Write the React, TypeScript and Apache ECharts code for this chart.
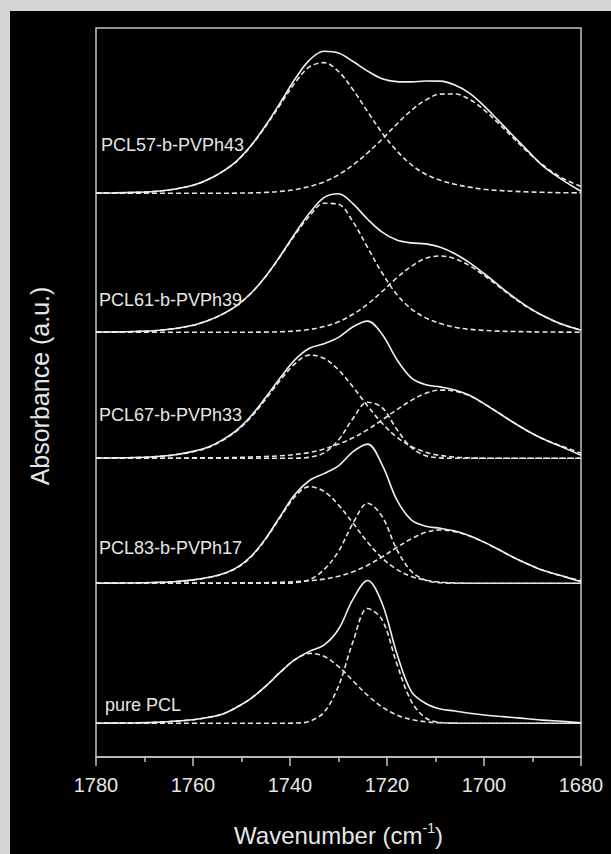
import React, { useEffect, useRef } from "react";
import * as echarts from "echarts";

// Wavenumber grid (cm-1), read positions along the x axis
const WAVENUMBERS = [1780, 1776, 1772, 1768, 1764, 1760, 1757, 1754, 1751, 1748, 1745, 1742, 1739, 1736, 1733, 1730, 1727, 1724, 1721, 1718, 1715, 1712, 1709, 1706, 1703, 1700, 1697, 1694, 1691, 1688, 1684, 1680];

const SAMPLE_NAMES = ["PCL57-b-PVPh43", "PCL61-b-PVPh39", "PCL67-b-PVPh33", "PCL83-b-PVPh17", "pure PCL"];
// vertical offset of each stacked spectrum (a.u. x100)
const BASELINES = [563.7, 424.7, 298.7, 173.7, 33.7];

// PCL57-b-PVPh43
const PCL57_TOTAL = [0.2, 0.4, 0.9, 1.8, 4.0, 8.0, 13.5, 21.5, 32.2, 48.0, 68.0, 90.6, 114.0, 133.2, 142.1, 140.3, 131.8, 122.2, 114.5, 111.7, 111.4, 112.3, 112.2, 108.3, 100.2, 87.5, 72.7, 57.6, 42.7, 28.0, 14.0, 2.0];
const PCL57_FREE = [0.2, 0.4, 0.9, 1.8, 4.0, 8.0, 13.5, 21.5, 32.0, 47.6, 67.1, 88.7, 110.3, 126.4, 130.7, 121.8, 103.5, 81.7, 60.3, 42.6, 28.6, 19.0, 13.0, 9.0, 6.2, 4.0, 2.8, 2.0, 1.4, 1.0, 0.6, 0.4];
const PCL57_HBOND = [0, 0, 0, 0, 0, 0, 0, 0, 0.2, 0.4, 0.9, 1.9, 3.7, 6.8, 11.4, 18.5, 28.3, 40.5, 54.2, 69.1, 82.8, 93.3, 99.2, 99.3, 94.0, 83.5, 69.9, 55.6, 41.3, 28.8, 15.5, 7.0];

// PCL61-b-PVPh39
const PCL61_TOTAL = [0.2, 0.4, 0.8, 1.6, 3.5, 7.0, 11.5, 17.9, 26.6, 39.3, 56.1, 76.5, 98.6, 119.0, 134.7, 138.5, 128.5, 113.0, 100.1, 92.2, 89.4, 88.4, 85.1, 78.6, 69.7, 58.8, 47.1, 35.7, 25.5, 17.1, 8.2, 2.0];
const PCL61_FREE = [0.2, 0.4, 0.8, 1.6, 3.5, 7.0, 11.5, 17.9, 26.6, 39.2, 55.9, 76.0, 97.3, 116.2, 129.0, 128.0, 110.4, 84.8, 59.3, 37.9, 23.5, 14.4, 8.8, 5.0, 3.0, 1.9, 1.2, 0.8, 0.5, 0.3, 0.2, 0.1];
const PCL61_HBOND = [0, 0, 0, 0, 0, 0, 0, 0, 0, 0.1, 0.2, 0.5, 1.3, 2.8, 5.7, 10.5, 18.1, 28.2, 40.8, 54.3, 65.9, 74.0, 76.3, 73.6, 66.7, 56.9, 45.9, 34.9, 25.0, 16.8, 8.0, 2.5];

// PCL67-b-PVPh33
const PCL67_TOTAL = [0.2, 0.4, 0.8, 1.6, 3.3, 6.9, 11.0, 18.2, 28.1, 42.6, 61.0, 80.5, 98.4, 110.0, 114.6, 120.9, 131.6, 137.2, 124.0, 99.0, 80.5, 73.6, 71.4, 68.3, 63.0, 54.7, 45.4, 36.0, 27.3, 19.8, 11.5, 3.0];
const PCL67_FREE = [0.2, 0.4, 0.8, 1.6, 3.3, 6.5, 10.5, 17.6, 27.3, 41.3, 59.2, 78.0, 94.5, 103.2, 100.0, 88.4, 71.2, 52.4, 35.0, 21.3, 11.8, 6.0, 2.8, 1.2, 0.4, 0.1, 0, 0, 0, 0, 0, 0];
const PCL67_CRYST = [0, 0, 0, 0, 0, 0, 0, 0, 0, 0, 0, 0, 0.1, 1.0, 5.4, 18.3, 39.9, 56.1, 50.6, 29.2, 10.8, 2.6, 0.4, 0, 0, 0, 0, 0, 0, 0, 0, 0];
const PCL67_HBOND = [0, 0, 0, 0, 0, 0.4, 0.5, 0.6, 0.8, 1.3, 1.8, 2.5, 3.8, 5.8, 9.2, 14.2, 20.5, 28.7, 38.4, 48.5, 57.9, 65.0, 68.2, 67.1, 62.6, 54.6, 45.4, 36.0, 27.3, 19.8, 12.3, 5.0];

// PCL83-b-PVPh17
const PCL83_TOTAL = [0.1, 0.2, 0.4, 0.8, 1.6, 3.4, 5.8, 9.4, 15.7, 27.1, 44.9, 67.2, 88.7, 102.8, 109.7, 117.4, 131.6, 139.2, 118.4, 83.7, 63.4, 57.1, 55.0, 52.2, 47.5, 41.2, 33.8, 26.1, 19.3, 13.2, 7.5, 1.5];
const PCL83_FREE = [0.1, 0.2, 0.4, 0.8, 1.6, 3.2, 5.6, 9.1, 15.3, 26.6, 44.3, 66.0, 86.5, 96.7, 91.9, 78.3, 60.0, 41.1, 25.3, 13.9, 6.9, 3.1, 1.2, 0.4, 0.1, 0, 0, 0, 0, 0, 0, 0];
const PCL83_CRYST = [0, 0, 0, 0, 0, 0, 0, 0, 0, 0, 0, 0.1, 0.6, 3.5, 13.6, 32.0, 60.0, 80.0, 66.8, 34.0, 12.0, 3.0, 0.5, 0.1, 0, 0, 0, 0, 0, 0, 0, 0];
const PCL83_HBOND = [0, 0, 0, 0, 0, 0.2, 0.2, 0.3, 0.4, 0.5, 0.6, 1.1, 1.6, 2.6, 4.2, 7.1, 11.6, 18.1, 26.3, 35.8, 44.5, 51.0, 53.3, 51.7, 47.4, 41.2, 33.8, 26.1, 19.3, 13.2, 7.5, 2.5];

// pure PCL
const PURE_TOTAL = [0.1, 0.2, 0.4, 0.9, 2.0, 3.6, 5.8, 9.0, 16.0, 25.0, 37.1, 51.1, 63.6, 71.9, 78.1, 94.0, 124.1, 142.8, 119.8, 70.3, 32.0, 19.8, 14.3, 12.3, 10.0, 8.3, 7.0, 5.8, 4.5, 3.2, 2.0, 0.6];
const PURE_AMORPH = [0.1, 0.2, 0.4, 0.9, 2.0, 3.6, 5.8, 9.0, 16.0, 25.0, 37.1, 51.1, 63.4, 69.9, 67.1, 56.7, 42.4, 28.0, 16.3, 8.4, 3.8, 1.5, 0.5, 0.2, 0, 0, 0, 0, 0, 0, 0, 0];
const PURE_CRYST = [0, 0, 0, 0, 0, 0, 0, 0, 0, 0, 0, 0, 0.2, 2.0, 11.0, 37.3, 81.7, 114.8, 103.5, 59.9, 22.2, 5.3, 0.8, 0.1, 0, 0, 0, 0, 0, 0, 0, 0];

const X_MIN = 1680;
const X_MAX = 1780;
const X_INTERVAL = 20;
const Y_MAX = 729;

const FONT = "'Liberation Sans', Arial, Helvetica, sans-serif";
const LINE = "#f0f0f0";
const DASH = "#e4e4e4";
const AXIS = "#c4c4c4";
const TEXT = "#e6e6e6";

export default function App() {
  const ref = useRef<HTMLDivElement>(null);

  useEffect(() => {
    if (!ref.current) return;
    const chart = echarts.init(ref.current, undefined, { renderer: "svg" });

    const totals = [PCL57_TOTAL, PCL61_TOTAL, PCL67_TOTAL, PCL83_TOTAL, PURE_TOTAL];
    const bands = [
      [PCL57_FREE, PCL57_HBOND],
      [PCL61_FREE, PCL61_HBOND],
      [PCL67_FREE, PCL67_CRYST, PCL67_HBOND],
      [PCL83_FREE, PCL83_CRYST, PCL83_HBOND],
      [PURE_AMORPH, PURE_CRYST],
    ];

    const toData = (vals: number[], base: number) =>
      WAVENUMBERS.map((w, i) => [w, base + vals[i]]);

    const series: any[] = [];
    totals.forEach((t, s) => {
      bands[s].forEach((b, k) => {
        series.push({
          type: "line",
          name: SAMPLE_NAMES[s] + " band " + (k + 1),
          data: toData(b, BASELINES[s]),
          smooth: 0.35,
          symbol: "none",
          lineStyle: { color: DASH, width: 1.6, type: [5, 3] },
          z: 2,
        });
      });
      series.push({
        type: "line",
        name: SAMPLE_NAMES[s],
        data: toData(t, BASELINES[s]),
        smooth: 0.35,
        symbol: "none",
        lineStyle: { color: LINE, width: 1.6 },
        z: 3,
      });
    });

    const labelPos = [
      [91, 134],
      [89, 289],
      [89, 404],
      [89, 537],
      [95, 694],
    ];

    const graphic: any[] = SAMPLE_NAMES.map((n, i) => ({
      type: "text",
      x: labelPos[i][0],
      y: labelPos[i][1],
      style: {
        text: n,
        fill: TEXT,
        font: `18px ${FONT}`,
        textAlign: "left",
        textVerticalAlign: "middle",
      },
      z: 10,
    }));
    graphic.push({
      type: "text",
      x: 30,
      y: 375,
      rotation: Math.PI / 2,
      style: {
        text: "Absorbance (a.u.)",
        fill: TEXT,
        font: `25px ${FONT}`,
        textAlign: "center",
        textVerticalAlign: "middle",
      },
      z: 10,
    });

    chart.setOption({
      animation: false,
      backgroundColor: "#000000",
      grid: {
        left: 86,
        right: 30,
        top: 17,
        bottom: 97,
        show: true,
        borderColor: AXIS,
        borderWidth: 1.5,
        backgroundColor: "transparent",
      },
      xAxis: {
        type: "value",
        min: X_MIN,
        max: X_MAX,
        interval: X_INTERVAL,
        inverse: true,
        axisLine: { show: true, lineStyle: { color: AXIS, width: 1.5 } },
        axisTick: { show: true, length: 9, lineStyle: { color: AXIS, width: 1.5 } },
        minorTick: { show: true, splitNumber: 2, length: 5, lineStyle: { color: AXIS, width: 1.5 } },
        splitLine: { show: false },
        axisLabel: {
          color: TEXT,
          fontSize: 20,
          fontFamily: FONT,
          margin: 18,
          formatter: (v: number) => String(v),
        },
        name: "Wavenumber (cm{sup|-1})",
        nameLocation: "middle",
        nameGap: 64,
        nameTextStyle: {
          color: TEXT,
          fontSize: 24,
          fontFamily: FONT,
          lineHeight: 28,
          rich: {
            sup: { fontSize: 14, fontFamily: FONT, color: TEXT, verticalAlign: "top", lineHeight: 28 },
          },
        },
      },
      yAxis: {
        type: "value",
        min: 0,
        max: Y_MAX,
        show: false,
      },
      graphic,
      series,
    });

    return () => chart.dispose();
  }, []);

  return (
    <div style={{ position: "absolute", left: 0, top: 0, width: 611, height: 854, background: "#d4d5d7" }}>
      <div ref={ref} style={{ position: "absolute", left: 10, top: 11, width: 601, height: 843 }} />
    </div>
  );
}
